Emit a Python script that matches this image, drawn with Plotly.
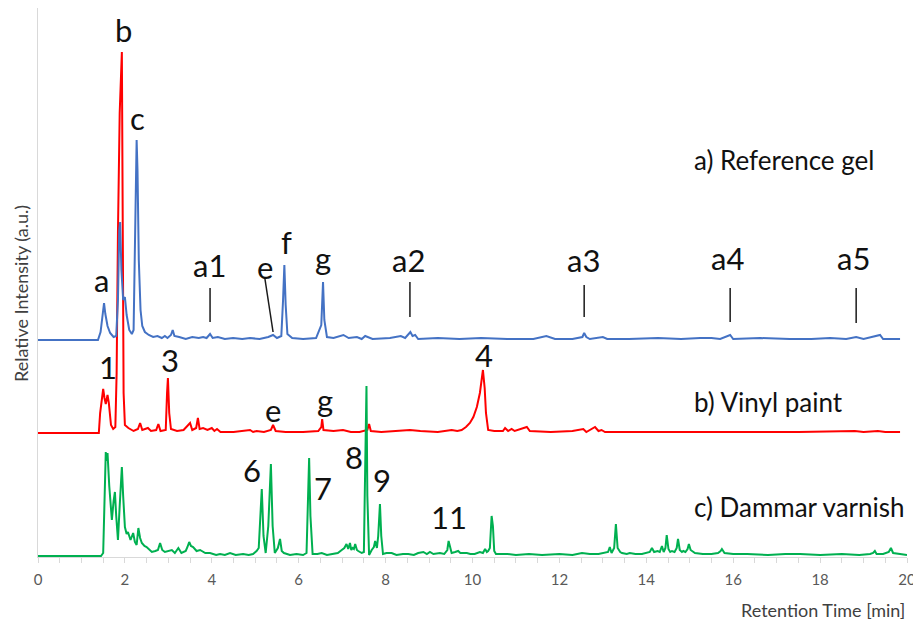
import plotly.graph_objects as go

# ---- data (retention time [min], peak height above the trace baseline [a.u.]) ----
blue_points = [(0,0),(1.38,0),(1.44,8),(1.49,30),(1.52,37),(1.55,26),(1.6,14),(1.66,7),(1.74,3),(1.8,4),
 (1.84,40),(1.87,110),(1.89,118),(1.92,70),(1.96,40),(2.0,43),(2.04,25),(2.1,10),(2.16,6),(2.2,10),
 (2.23,90),(2.26,195),(2.27,200),(2.29,170),(2.32,80),(2.36,30),(2.4,14),(2.46,8),(2.55,5),(2.65,3),
 (2.75,4),(2.85,2),(2.92,4),(2.98,2),(3.06,5),(3.1,10),(3.14,4),(3.25,3),(3.4,1),(3.55,3),(3.7,2),
 (3.8,3),(3.88,2),(3.96,6),(4.02,2),(4.14,3),(4.3,1),(4.49,2),(4.7,1),(4.88,2),(5.1,1),(5.3,3),
 (5.41,5),(5.5,2),(5.6,4),(5.64,40),(5.67,75),(5.7,35),(5.74,6),(5.85,2),(6.1,1),(6.4,2),(6.52,15),
 (6.56,58),(6.59,20),(6.65,3),(6.8,2),(7.03,5),(7.15,2),(7.34,3),(7.45,1),(7.53,4),(7.7,1),(8.1,2),
 (8.35,4),(8.45,2),(8.53,6),(8.57,8),(8.62,4),(8.68,5),(8.75,1),(9.2,2),(9.7,1),(10.2,2),(10.8,1),
 (11.4,1),(11.7,4),(11.9,1),(12.3,1),(12.53,3),(12.57,7),(12.62,3),(12.7,1),(13.0,3),(13.1,1),
 (13.6,1),(14.27,2),(14.8,1),(15.24,2),(15.5,2),(15.7,1),(15.93,5),(16.0,1),(16.62,2),(17.3,1),
 (17.8,1),(18.23,2),(18.6,1),(18.83,3),(19.0,1),(19.38,5),(19.45,1),(19.84,1)]

red_points = [(0,0),(1.4,0),(1.43,20),(1.47,38),(1.5,44),(1.53,35),(1.56,29),(1.6,38),(1.63,30),(1.68,8),
 (1.73,4),(1.78,6),(1.81,60),(1.84,200),(1.88,320),(1.93,381),(1.95,200),(1.97,40),(2.0,8),(2.08,5),
 (2.2,2),(2.3,4),(2.35,10),(2.4,3),(2.53,5),(2.6,2),(2.72,3),(2.77,9),(2.82,2),(2.94,3),(2.97,40),
 (2.99,55),(3.02,20),(3.06,4),(3.2,2),(3.35,3),(3.5,10),(3.55,3),(3.64,5),(3.68,15),(3.72,4),(3.8,5),
 (3.9,3),(4.0,5),(4.06,2),(4.12,4),(4.2,1),(4.5,1),(4.88,3),(4.95,1),(5.03,2),(5.2,1),(5.36,3),
 (5.41,8),(5.47,2),(5.7,1),(6.1,1),(6.45,2),(6.52,6),(6.54,14),(6.57,3),(6.8,2),(7.02,3),(7.2,1),
 (7.4,1),(7.58,3),(7.62,9),(7.66,2),(7.9,1),(8.3,2),(8.56,3),(8.8,2),(9.2,1),(9.52,3),(9.65,2),
 (9.75,3),(9.85,6),(9.94,10),(10.02,16),(10.1,26),(10.17,40),(10.24,63),(10.28,45),(10.31,20),
 (10.36,3),(10.5,2),(10.7,2),(10.75,5),(10.82,2),(10.9,4),(10.97,2),(11.25,6),(11.32,2),(11.8,1),
 (12.3,2),(12.55,4),(12.62,1),(12.82,6),(12.9,2),(12.97,3),(13.05,1),(14.0,1),(15.0,1),(16.5,1),
 (17.5,1),(18.8,2),(19.0,1),(19.33,2),(19.5,1),(19.84,1)]

green_points = [(0,0),(1.45,0),(1.5,3),(1.53,60),(1.56,104),(1.58,95),(1.6,103),(1.64,70),(1.7,36),
 (1.74,55),(1.77,64),(1.8,40),(1.84,16),(1.88,50),(1.93,89),(1.96,60),(2.0,29),(2.04,22),(2.07,24),
 (2.13,16),(2.19,23),(2.23,14),(2.27,11),(2.31,28),(2.35,18),(2.39,13),(2.45,10),(2.5,9),(2.56,6),
 (2.62,4),(2.7,5),(2.76,6),(2.81,13),(2.86,6),(2.92,4),(3.0,5),(3.08,6),(3.15,3),(3.23,8),(3.3,3),
 (3.4,5),(3.44,9),(3.48,14),(3.52,10),(3.57,9),(3.65,5),(3.73,6),(3.85,3),(3.96,3),(4.1,1),(4.19,2),
 (4.3,1),(4.42,3),(4.55,1),(4.72,2),(4.85,1),(4.95,2),(5.03,5),(5.08,8),(5.15,67),(5.19,20),(5.24,3),
 (5.3,30),(5.36,92),(5.4,30),(5.45,3),(5.52,8),(5.57,17),(5.61,5),(5.66,3),(5.8,1),(5.95,2),(6.1,1),
 (6.18,3),(6.21,40),(6.24,98),(6.27,40),(6.32,2),(6.43,2),(6.53,3),(6.65,1),(6.8,2),(6.9,3),(6.99,6),
 (7.05,8),(7.1,12),(7.14,7),(7.18,13),(7.21,6),(7.24,8),(7.27,7),(7.3,12),(7.34,6),(7.37,5),(7.45,3),
 (7.5,4),(7.53,80),(7.56,170),(7.58,60),(7.62,1),(7.68,6),(7.73,9),(7.76,15),(7.8,8),(7.83,20),
 (7.87,52),(7.9,20),(7.94,2),(8.02,3),(8.14,3),(8.25,1),(8.4,2),(8.52,2),(8.65,1),(8.75,3),(8.87,4),
 (8.95,2),(9.02,4),(9.1,2),(9.25,3),(9.35,2),(9.42,6),(9.45,15),(9.49,6),(9.52,3),(9.6,4),(9.67,5),
 (9.72,3),(9.8,3),(9.87,3),(9.95,2),(10.05,2),(10.17,4),(10.24,3),(10.29,7),(10.33,4),(10.36,5),
 (10.4,8),(10.44,40),(10.47,30),(10.5,5),(10.54,2),(10.8,2),(11.0,1),(11.3,2),(11.6,1),(12.0,2),
 (12.3,1),(12.52,3),(12.7,2),(12.9,2),(13.05,3),(13.12,4),(13.16,9),(13.2,3),(13.26,8),(13.3,32),
 (13.34,8),(13.4,4),(13.44,3),(13.55,2),(13.62,3),(13.75,2),(13.9,2),(14.0,3),(14.08,4),(14.13,8),
 (14.18,4),(14.26,5),(14.31,4),(14.36,10),(14.4,4),(14.44,8),(14.47,21),(14.51,7),(14.55,4),
 (14.59,5),(14.65,4),(14.7,8),(14.73,17),(14.77,6),(14.82,4),(14.85,5),(14.9,4),(14.95,7),(14.98,12),
 (15.02,6),(15.12,3),(15.3,2),(15.5,2),(15.65,3),(15.71,5),(15.74,7),(15.8,3),(16.0,2),(16.32,2),
 (16.8,1),(17.2,2),(17.54,2),(18.0,1),(18.5,2),(18.9,1),(19.15,2),(19.22,3),(19.26,5),(19.3,2),
 (19.45,2),(19.58,4),(19.63,8),(19.68,3),(19.84,2),(20,1)]

# vertical offsets of the stacked traces
offsets = {"blue": 217, "red": 124, "green": 1}

series_names = ["a) Reference gel", "b) Vinyl paint", "c) Dammar varnish"]
series_label_pos = [(15.05, 397), (15.05, 155), (15.05, 50)]

# peak labels: (text, time, intensity)
blue_labels = [("a",1.45,277),("b",1.96,527),("c",2.28,439),("a1",3.94,292),("e",5.22,290),
               ("f",5.73,315),("g",6.56,299),("a2",8.52,297),("a3",12.55,297),("a4",15.88,299),("a5",18.78,299)]
red_labels = [("1",1.6,190),("3",3.04,197),("e",5.41,147),("g",6.6,157),("4",10.26,202)]
green_labels = [("6",4.93,87),("7",6.56,69),("8",7.27,100),("9",7.92,77),("11",9.46,40)]

# marker ticks for a1..a5 and e: (t0, y0, t1, y1)
marker_lines = [(3.96,235,3.96,269),(8.56,240,8.56,275),(12.57,240,12.57,272),
                (15.93,235,15.93,269),(18.83,234,18.83,269),(5.22,279,5.41,225)]

colors = {"blue": "#4472C4", "red": "#FF0000", "green": "#00B050"}
FONT = "Lato"

fig = go.Figure()
for key, pts in [("red", red_points), ("blue", blue_points), ("green", green_points)]:
    xs = [p[0] for p in pts]
    ys = [p[1] + offsets[key] for p in pts]
    fig.add_trace(go.Scatter(x=xs, y=ys, mode="lines",
                             line=dict(color=colors[key], width=2), hoverinfo="skip"))

for (t0, y0, t1, y1) in marker_lines:
    fig.add_shape(type="line", x0=t0, y0=y0, x1=t1, y1=y1, xref="x", yref="y",
                  line=dict(color="#1a1a1a", width=1.5))

for txt, t, y in blue_labels + red_labels + green_labels:
    fig.add_annotation(x=t, y=y, text=txt, showarrow=False, xanchor="center", yanchor="middle",
                       font=dict(family=FONT, size=31, color="#111111"))

for name, (t, y) in zip(series_names, series_label_pos):
    fig.add_annotation(x=t, y=y, text=name, showarrow=False, xanchor="left", yanchor="middle",
                       font=dict(family=FONT, size=26, color="#111111"))

fig.add_annotation(x=1, y=-0.097, xref="paper", yref="paper", text="Retention Time [min]",
                   showarrow=False, xanchor="right", yanchor="middle",
                   font=dict(family=FONT, size=18, color="#404040"))
fig.add_annotation(x=-0.019, y=0.48, xref="paper", yref="paper", text="Relative Intensity (a.u.)",
                   showarrow=False, textangle=-90, xanchor="center", yanchor="middle",
                   font=dict(family=FONT, size=18, color="#404040"))

fig.update_layout(
    width=913, height=615,
    margin=dict(l=30, r=14, t=0, b=66),
    paper_bgcolor="white", plot_bgcolor="white",
    showlegend=False,
    xaxis=dict(range=[0, 20], tick0=0, dtick=2, showline=True, linecolor="#D9D9D9", linewidth=1,
               ticks="outside", ticklen=5, tickcolor="#D9D9D9", ticklabelstandoff=4,
               minor=dict(dtick=0.5, ticks="outside", ticklen=5, tickcolor="#D9D9D9"),
               showgrid=False, zeroline=False,
               tickfont=dict(family=FONT, size=15, color="#595959")),
    yaxis=dict(range=[0, 549], showline=True, linecolor="#D9D9D9", linewidth=1,
               showticklabels=False, ticks="", showgrid=False, zeroline=False),
)

fig.write_html("out.html")
